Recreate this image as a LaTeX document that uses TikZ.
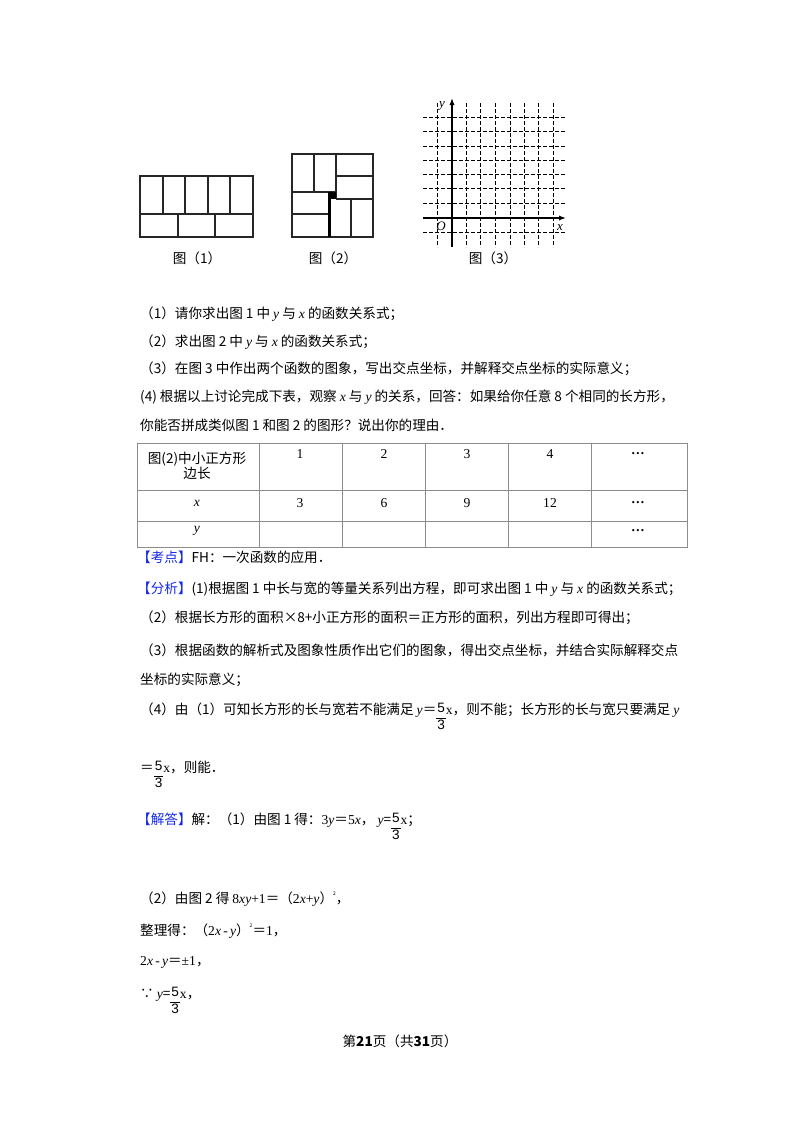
\documentclass[tikz,border=0pt]{standalone}
\usepackage{fontspec}
\setmainfont{Noto Sans CJK SC}
\newfontfamily\serifl{Liberation Serif}
\newfontfamily\sansl{Liberation Sans}
\usetikzlibrary{arrows.meta}
\definecolor{kblue}{RGB}{20,40,230}
\tikzset{txt/.style={anchor=west,inner sep=0pt,font=\fontsize{13.6}{15}\selectfont},
 fig/.style={line width=1.3pt,draw=black!85},
 grid3/.style={dashed,line width=0.9pt,dash pattern=on 4pt off 2pt},
 cell/.style={font=\fontsize{13.6}{15}\selectfont\serifl}}
\newcommand{\bl}[1]{{\color{kblue}#1}}
\newcommand{\vx}{{\serifl\itshape x}}
\newcommand{\vy}{{\serifl\itshape y}}
\newcommand{\fr}{\raisebox{-0.35\height}{{\sansl\renewcommand{\arraystretch}{1.1}\setlength{\tabcolsep}{1pt}\begin{tabular}{c}5\\\hline 3\end{tabular}}}{\serifl x}}
\begin{document}
\begin{tikzpicture}[x=1pt,y=-1pt]
\useasboundingbox[fill=white] (0,0) rectangle (800,1132);
% Figure 1
\draw[fig] (140,176) rectangle (253,237);
\draw[fig] (140,214) -- (253,214);
\foreach \x in {163,185,208,230} \draw[fig] (\x,176) -- (\x,214);
\foreach \x in {178,215} \draw[fig] (\x,214) -- (\x,237);
\node[txt,anchor=center] (c1) at (197,258) {图（1）};
% Figure 2
\draw[fig] (292,154) rectangle (373,237);
\draw[fig] (314,154) -- (314,192);
\draw[fig] (336,154) -- (336,199);
\draw[fig] (336,176) -- (373,176);
\draw[fig] (336,199) -- (373,199);
\draw[fig] (292,192) -- (336,192);
\draw[fig] (292,214) -- (328,214);
\draw[fig] (351,199) -- (351,237);
\fill (328,192) rectangle (336,199);
\fill (328,192) rectangle (331,237);
\node[txt,anchor=center] (c2) at (333,258) {图（2）};
% Figure 3
\foreach \x in {437,466,480,495,510,524,538,553} \draw[grid3] (\x,103) -- (\x,247);
\foreach \y in {117,131,146,160,174,188,203,232} \draw[grid3] (423,\y) -- (565,\y);
\draw[line width=1.4pt,-{Latex[length=7pt]}] (452,247) -- (452,98);
\draw[line width=1.4pt,-{Latex[length=7pt]}] (423,218) -- (566,218);
\node[font=\itshape\serifl\fontsize{13}{13}\selectfont] (ly) at (442,106) {y};
\node[font=\itshape\serifl\fontsize{13}{13}\selectfont] (lo) at (441,226) {O};
\node[font=\itshape\serifl\fontsize{13}{13}\selectfont] (lx) at (560,228) {x};
\node[txt,anchor=center] (c3) at (493,258) {图（3）};
% questions
\node[txt] (q1) at (140,314) {（1）请你求出图 1 中 \vy{} 与 \vx{} 的函数关系式；};
\node[txt] (q2) at (140,342) {（2）求出图 2 中 \vy{} 与 \vx{} 的函数关系式；};
\node[txt] (q3) at (140,369) {（3）在图 3 中作出两个函数的图象，写出交点坐标，并解释交点坐标的实际意义；};
\node[txt] (q4) at (140,397) {(4) 根据以上讨论完成下表，观察 \vx{} 与 \vy{} 的关系，回答：如果给你任意 8 个相同的长方形，};
\node[txt] (q5) at (140,425) {你能否拼成类似图 1 和图 2 的图形？说出你的理由．};
% table
\draw[line width=0.8pt,black!45] (137,443) rectangle (687,547);
\foreach \y in {490,521} \draw[line width=0.8pt,black!45] (137,\y) -- (687,\y);
\foreach \x in {259,342,425,508,591} \draw[line width=0.8pt,black!45] (\x,443) -- (\x,547);
\node[txt,anchor=center,align=center] (t0) at (197,466) {图(2)中小正方形\\边长};
\node[cell] (t1) at (300,454) {1};
\node[cell] (t2) at (384,454) {2};
\node[cell] (t3) at (467,454) {3};
\node[cell] (t4) at (550,454) {4};
\node[cell] (t5) at (638,454) {\textbf{…}};
\node[cell] (tx) at (197,503) {\vx};
\node[cell] (u1) at (300,503) {3};
\node[cell] (u2) at (384,503) {6};
\node[cell] (u3) at (467,503) {9};
\node[cell] (u4) at (550,503) {12};
\node[cell] (u5) at (638,503) {\textbf{…}};
\node[cell] (ty) at (197,531) {\vy};
\node[cell] (v5) at (638,531) {\textbf{…}};
% analysis
\node[txt] (a0) at (137,557) {\bl{【考点】}FH：一次函数的应用．};
\node[txt] (a1) at (137,589) {\bl{【分析】}(1)根据图 1 中长与宽的等量关系列出方程，即可求出图 1 中 \vy{} 与 \vx{} 的函数关系式；};
\node[txt] (a2) at (140,618) {（2）根据长方形的面积×8+小正方形的面积＝正方形的面积，列出方程即可得出；};
\node[txt] (a3) at (140,650) {（3）根据函数的解析式及图象性质作出它们的图象，得出交点坐标，并结合实际解释交点};
\node[txt] (a4) at (140,680) {坐标的实际意义；};
\node[txt] (a5) at (140,718) {（4）由（1）可知长方形的长与宽若不能满足 \vy＝\fr，则不能；长方形的长与宽只要满足 \vy};
\node[txt] (a6) at (140,776) {＝\fr，则能．};
\node[txt] (s0) at (137,828) {\bl{【解答】}解：（1）由图 1 得：{\serifl 3}\vy＝{\serifl 5}\vx， \vy=\fr；};
\node[txt] (s1) at (140,899) {（2）由图 2 得 {\serifl 8}\vx\vy{\serifl +1}＝（{\serifl 2}\vx{\serifl +}\vy）\raisebox{1ex}{\tiny 2}，};
\node[txt] (s2) at (140,931) {整理得：（{\serifl 2}\vx{\serifl \,-\,}\vy）\raisebox{1ex}{\tiny 2}＝{\serifl 1}，};
\node[txt] (s3) at (140,962) {{\serifl 2}\vx{\serifl \,-\,}\vy＝{\serifl ±1}，};
\node[txt] (s4) at (140,1002) {∵ \vy=\fr，};
\node[txt,anchor=center] (pg) at (400,1041) {第\textbf{21}页（共\textbf{31}页）};
\end{tikzpicture}
\end{document}
